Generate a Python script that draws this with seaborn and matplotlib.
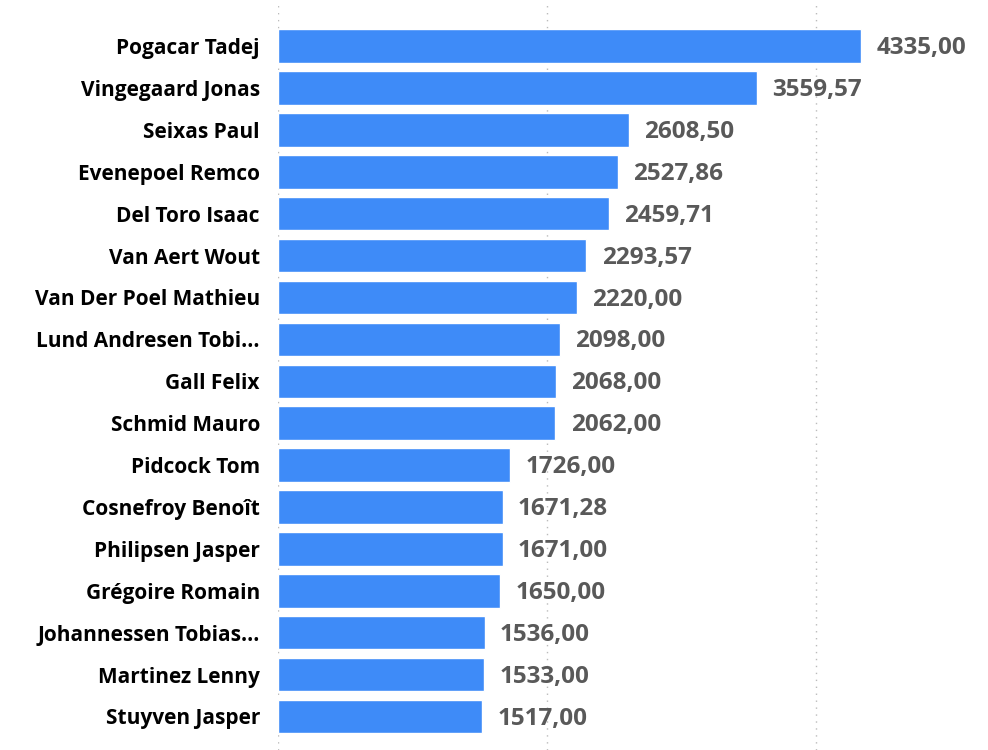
import pandas as pd
import matplotlib.pyplot as plt
import seaborn as sns

riders = [
    "Pogacar Tadej", "Vingegaard Jonas", "Seixas Paul", "Evenepoel Remco",
    "Del Toro Isaac", "Van Aert Wout", "Van Der Poel Mathieu",
    "Lund Andresen Tobi...", "Gall Felix", "Schmid Mauro", "Pidcock Tom",
    "Cosnefroy Benoît", "Philipsen Jasper", "Grégoire Romain",
    "Johannessen Tobias...", "Martinez Lenny", "Stuyven Jasper",
]
points = [
    4335.00, 3559.57, 2608.50, 2527.86, 2459.71, 2293.57, 2220.00,
    2098.00, 2068.00, 2062.00, 1726.00, 1671.28, 1671.00, 1650.00,
    1536.00, 1533.00, 1517.00,
]
grid_ticks = [0, 2000, 4000]

df = pd.DataFrame({"rider": riders, "points": points})

sns.set_theme(style="white")
plt.rcParams["font.family"] = ["Open Sans", "DejaVu Sans"]

fig = plt.figure(figsize=(9.88, 7.5), dpi=100)
ax = fig.add_axes([278 / 988, 0, 1 - 278 / 988, 1])

sns.barplot(data=df, x="points", y="rider", color="#3E8BF8", saturation=1,
            width=0.8, ax=ax, zorder=2)

for i, v in enumerate(points):
    # format with comma decimal separator, no thousands separator
    txt = f"{v:.2f}".replace(".", ",")
    ax.annotate(txt, xy=(v, i), xytext=(11, -1.5), textcoords="offset points",
                va="center", ha="left", fontsize=17.5, fontweight="bold",
                color="#595959")

ax.set_xlim(0, 5280)
ax.set_ylim(16.8, -1.1)
ax.set_xticks(grid_ticks)
ax.set_xticklabels([])
ax.tick_params(axis="x", length=0)
ax.tick_params(axis="y", length=0, pad=13)
for lbl in ax.get_yticklabels():
    lbl.set_fontsize(15)
    lbl.set_fontweight("bold")
    lbl.set_color("#000000")
ax.xaxis.grid(True, linestyle=(0, (1, 4)), color="#BBBBBB", linewidth=1, zorder=0)
ax.set_xlabel("")
ax.set_ylabel("")
sns.despine(ax=ax, left=True, bottom=True)

fig.savefig("out.png", dpi=100)
